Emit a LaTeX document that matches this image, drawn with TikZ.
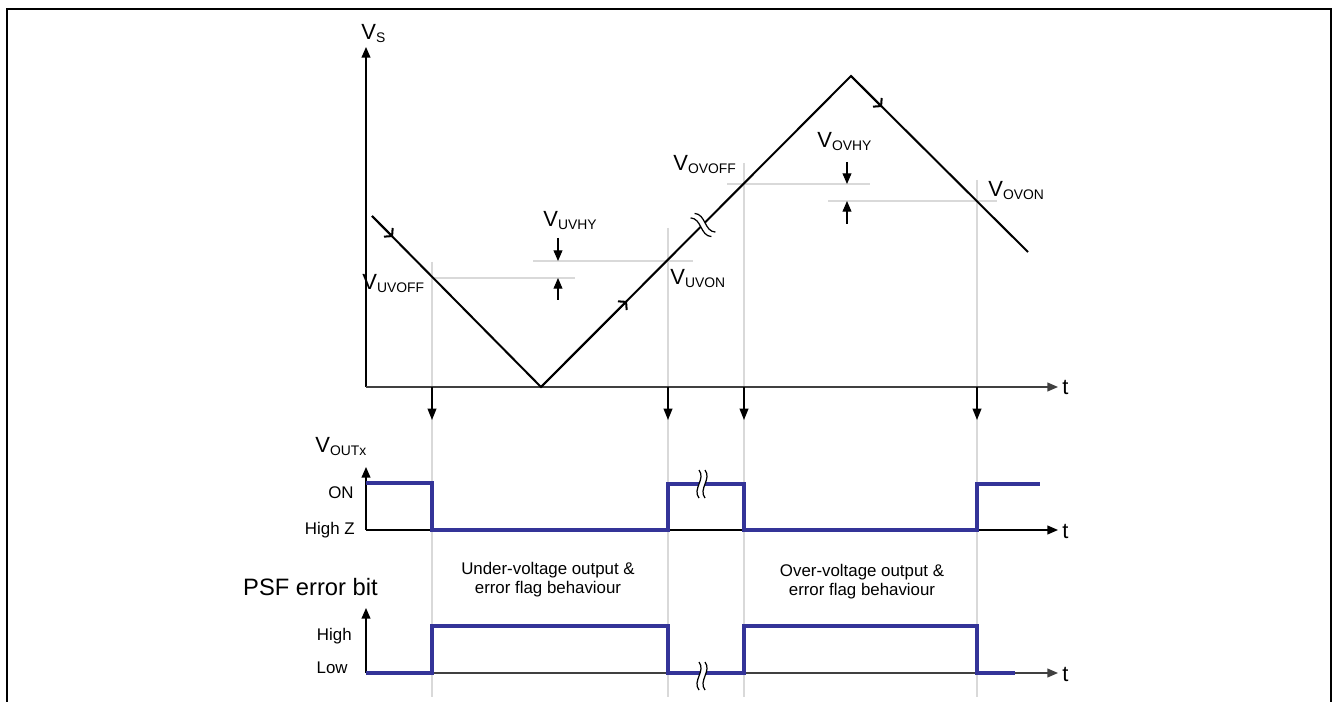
\documentclass[tikz,border=0pt]{standalone}
\usepackage{fontspec}
\setmainfont{Liberation Sans}
\usetikzlibrary{arrows.meta, positioning}
\definecolor{sigblue}{RGB}{52,52,152}
\tikzset{
    axis/.style={line width=0.75pt, -{Triangle[length=6pt,width=5pt]}}, % axes with filled heads
    ramp/.style={line width=1.15pt}, % supply voltage ramp
    guide/.style={gray!30, line width=0.7pt}, % thin threshold lines
    wave/.style={sigblue, line width=2pt, line join=miter}, % output waveforms
    drop/.style={line width=0.9pt, -{Triangle[length=6.5pt,width=5pt]}}, % event arrows
    hyst/.style={line width=0.6pt, -{Triangle[length=6pt,width=5pt]}}, % hysteresis arrows
    dir/.style={line width=1.15pt, -{Straight Barb[length=3pt,width=7pt]}}, % direction marks
    lbl/.style={inner sep=0pt, font=\fontsize{12.5}{15}\selectfont, anchor=base west},
    lvl/.style={inner sep=0pt, font=\fontsize{9.6}{11}\selectfont, anchor=base east},
    note/.style={inner sep=0pt, align=center, font=\fontsize{9.6}{10.8}\selectfont},
    brk/.pic={ % break symbol
        \fill[white] (-3,-14) .. controls (4,-5) and (-10,5) .. (-3,14) -- (3,14) .. controls (-4,5) and (10,-5) .. (3,-14) -- cycle;
        \draw[black, line width=0.7pt] (-3,-14) .. controls (4,-5) and (-10,5) .. (-3,14)
                                       (3,-14) .. controls (10,-5) and (-4,5) .. (3,14);
    },
}
\newcommand{\volt}[1]{V{\fontsize{7.9}{9}\selectfont\raisebox{-0.3ex}{#1}}}

\begin{document}
\begin{tikzpicture}[x=0.02cm, y=-0.02cm]
    \useasboundingbox (0,0) rectangle (1332,702);
    \draw[line width=0.8pt] (7,702) -- (7,9) -- (1331,9) -- (1331,702);

    % axis origins and tips
    \coordinate (O1) at (366,387); \coordinate (Y1) at (366,47);  \coordinate (T1) at (1058,387);
    \coordinate (O2) at (366,530); \coordinate (Y2) at (366,467); \coordinate (T2) at (1058,530);
    \coordinate (O3) at (366,673); \coordinate (Y3) at (366,608); \coordinate (T3) at (1058,673);

    % threshold guides
    \foreach \x/\y in {432/262, 668/228, 744/163, 977/180}
        \draw[guide] (\x,\y) -- (\x,697);
    \draw[guide] (432,278) -- (575,278);
    \draw[guide] (533,261) -- (693,261);
    \draw[guide] (727,184) -- (870,184);
    \draw[guide] (828,201) -- (997,201);

    % supply voltage
    \draw[axis] (O1) -- (Y1);
    \draw[axis, black!75] (O1) -- (T1);
    \coordinate (R0) at (372,216); \coordinate (R1) at (541,387);
    \coordinate (R2) at (851,76);  \coordinate (R3) at (1028,252);
    \draw[ramp] (R0) -- (R1) -- (R2) -- (R3);
    \draw[dir] (R0) -- (393,237);
    \draw[dir] (R1) -- (627,301);
    \draw[dir] (R2) -- (882,107);
    \pic[rotate=48] at (703,225) {brk};

    % hysteresis
    \draw[hyst] (558,238) -- (558,261);
    \draw[hyst] (558,300) -- (558,278);
    \draw[hyst] (847,162) -- (847,184);
    \draw[hyst] (847,224) -- (847,201);

    \node[lbl] (vs)    at (361,40)  {\volt{S}};
    \node[lbl] (uvoff) at (362,290) {\volt{UVOFF}};
    \node[lbl] (uvhy)  at (543,227) {\volt{UVHY}};
    \node[lbl] (uvon)  at (670,285) {\volt{UVON}};
    \node[lbl] (ovoff) at (673,171) {\volt{OVOFF}};
    \node[lbl] (ovhy)  at (817,148) {\volt{OVHY}};
    \node[lbl] (ovon)  at (988,197) {\volt{OVON}};
    \node[lbl] (t1) at (1062,395) {t};

    % events
    \foreach \x in {432,668,744,977}
        \draw[drop] (\x,387) -- (\x,420);

    % output
    \draw[axis] (O2) -- (Y2);
    \draw[axis] (O2) -- (T2);
    \draw[wave] (366,483) -- (432,483) -- (432,530) -- (668,530) -- (668,484)
        -- (744,484) -- (744,530) -- (977,530) -- (977,484) -- (1040,484);
    \pic at (702,484) {brk};
    \node[lbl] (vout) at (315,453) {\volt{OUTx}};
    \node[lvl] (on)   at (354,498) {ON};
    \node[lvl] (hz)   at (355,534) {High Z};
    \node[lbl] (t2) at (1062,538) {t};

    % error bit
    \draw[axis] (O3) -- (Y3);
    \draw[axis, black!75] (O3) -- (T3);
    \draw[wave] (366,673) -- (432,673) -- (432,626) -- (668,626) -- (668,673)
        -- (744,673) -- (744,626) -- (977,626) -- (977,673) -- (1015,673);
    \pic at (702,676) {brk};
    \node[lvl, font=\fontsize{13.5}{16}\selectfont] (psf) at (378,595) {PSF error bit};
    \node[lvl] (hi) at (352,640) {High};
    \node[lvl] (lo) at (348,673) {Low};
    \node[lbl] (t3) at (1062,681) {t};

    \node[note] (uv) at (548,580) {Under-voltage output \&\\error flag behaviour};
    \node[note] (ov) at (862,582) {Over-voltage output \&\\error flag behaviour};
\end{tikzpicture}
\end{document}
